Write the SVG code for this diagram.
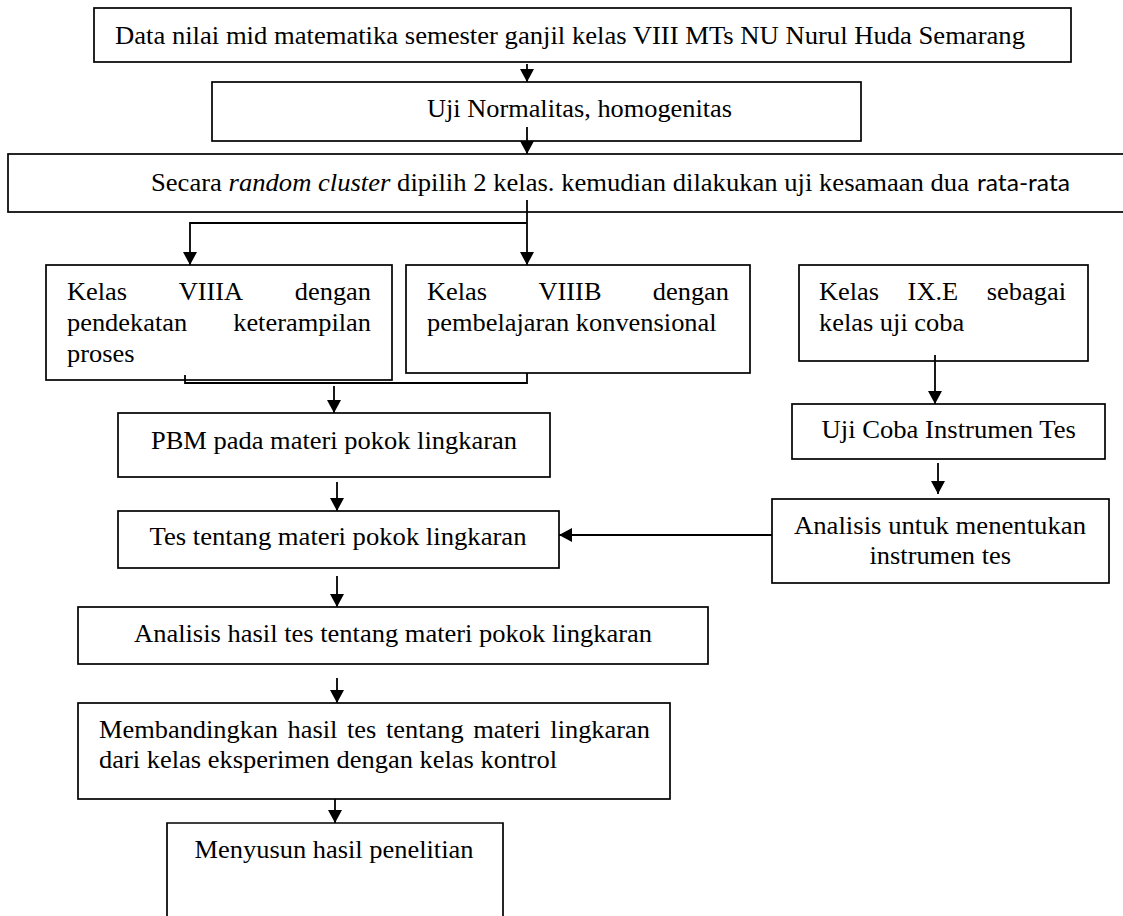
<svg xmlns="http://www.w3.org/2000/svg" width="1123" height="916" viewBox="0 0 1123 916">
<style>
.t{font-family:"Liberation Serif","Times New Roman",serif;font-size:24.5px;fill:#000}
.s{font-family:Lato,"Open Sans","Liberation Sans",sans-serif;font-size:23px;fill:#000}
.box{fill:#fff;stroke:#000;stroke-width:1.7}
.conn{stroke:#000;stroke-width:1.8;fill:none}
.arr{marker-end:url(#ah)}
</style>
<defs>
<marker id="ah" markerUnits="userSpaceOnUse" markerWidth="14" markerHeight="15" refX="13" refY="7" orient="auto">
<path d="M0,0 L13,7 L0,14 z" fill="#000"/>
</marker>
</defs>
<rect width="1123" height="916" fill="#fff"/>

<g id="n1">
<rect class="box" x="94" y="8" width="977" height="54"/>
<text class="t" x="115" y="44" textLength="910" lengthAdjust="spacingAndGlyphs">Data nilai mid matematika semester ganjil kelas VIII MTs NU Nurul Huda Semarang</text>
</g>
<g id="n2">
<rect class="box" x="212" y="82" width="649" height="59"/>
<text class="t" x="427" y="117" textLength="305" lengthAdjust="spacingAndGlyphs">Uji Normalitas, homogenitas</text>
</g>
<g id="n3">
<rect class="box" x="8" y="154" width="1130" height="58"/>
<text class="t" x="151" y="191" textLength="818" lengthAdjust="spacingAndGlyphs">Secara <tspan font-style="italic">random cluster</tspan> dipilih 2 kelas. kemudian dilakukan uji kesamaan dua</text>
<text class="s" x="977" y="191" textLength="93" lengthAdjust="spacingAndGlyphs">rata-rata</text>
</g>
<g id="n4">
<rect class="box" x="46" y="265" width="346" height="115"/>
<text class="t" x="67" y="300" textLength="60.1" lengthAdjust="spacingAndGlyphs">Kelas</text>
<text class="t" x="178.7" y="300" textLength="64.5" lengthAdjust="spacingAndGlyphs">VIIIA</text>
<text class="t" x="294.8" y="300" textLength="76.2" lengthAdjust="spacingAndGlyphs">dengan</text>
<text class="t" x="67" y="331" textLength="120.2" lengthAdjust="spacingAndGlyphs">pendekatan</text>
<text class="t" x="233.2" y="331" textLength="137.8" lengthAdjust="spacingAndGlyphs">keterampilan</text>
<text class="t" x="67" y="362" textLength="67.5" lengthAdjust="spacingAndGlyphs">proses</text>
</g>
<g id="n5">
<rect class="box" x="406" y="265" width="344" height="108"/>
<text class="t" x="427" y="300" textLength="60.1" lengthAdjust="spacingAndGlyphs">Kelas</text>
<text class="t" x="538.5" y="300" textLength="63" lengthAdjust="spacingAndGlyphs">VIIIB</text>
<text class="t" x="652.8" y="300" textLength="76.2" lengthAdjust="spacingAndGlyphs">dengan</text>
<text class="t" x="427" y="331" textLength="289.6" lengthAdjust="spacingAndGlyphs">pembelajaran konvensional</text>
</g>
<g id="n6">
<rect class="box" x="799" y="265" width="289" height="96"/>
<text class="t" x="819" y="300" textLength="60.1" lengthAdjust="spacingAndGlyphs">Kelas</text>
<text class="t" x="907.6" y="300" textLength="50.6" lengthAdjust="spacingAndGlyphs">IX.E</text>
<text class="t" x="986.8" y="300" textLength="79.2" lengthAdjust="spacingAndGlyphs">sebagai</text>
<text class="t" x="819" y="331" textLength="145.2" lengthAdjust="spacingAndGlyphs">kelas uji coba</text>
</g>
<g id="n7">
<rect class="box" x="792" y="404" width="313" height="55"/>
<text class="t" x="821.5" y="438" textLength="254.4" lengthAdjust="spacingAndGlyphs">Uji Coba Instrumen Tes</text>
</g>
<g id="n8">
<rect class="box" x="772" y="499" width="337" height="84"/>
<text class="t" x="794" y="534" textLength="292" lengthAdjust="spacingAndGlyphs">Analisis untuk menentukan</text>
<text class="t" x="869.5" y="564" textLength="141.5" lengthAdjust="spacingAndGlyphs">instrumen tes</text>
</g>
<g id="n9">
<rect class="box" x="118" y="413" width="432" height="64"/>
<text class="t" x="151" y="449" textLength="366" lengthAdjust="spacingAndGlyphs">PBM pada materi pokok lingkaran</text>
</g>
<g id="n10">
<rect class="box" x="118" y="511" width="441" height="57"/>
<text class="t" x="149.5" y="545" textLength="377" lengthAdjust="spacingAndGlyphs">Tes tentang materi pokok lingkaran</text>
</g>
<g id="n11">
<rect class="box" x="78" y="607" width="630" height="57"/>
<text class="t" x="134" y="642" textLength="518" lengthAdjust="spacingAndGlyphs">Analisis hasil tes tentang materi pokok lingkaran</text>
</g>
<g id="n12">
<rect class="box" x="78" y="703" width="592" height="96"/>
<text class="t" x="99" y="738" textLength="178.9" lengthAdjust="spacingAndGlyphs">Membandingkan</text>
<text class="t" x="287.5" y="738" textLength="49.9" lengthAdjust="spacingAndGlyphs">hasil</text>
<text class="t" x="347" y="738" textLength="29.3" lengthAdjust="spacingAndGlyphs">tes</text>
<text class="t" x="385.9" y="738" textLength="77.7" lengthAdjust="spacingAndGlyphs">tentang</text>
<text class="t" x="473.2" y="738" textLength="67.5" lengthAdjust="spacingAndGlyphs">materi</text>
<text class="t" x="550.3" y="738" textLength="99.7" lengthAdjust="spacingAndGlyphs">lingkaran</text>
<text class="t" x="99" y="768" textLength="458" lengthAdjust="spacingAndGlyphs">dari kelas eksperimen dengan kelas kontrol</text>
</g>
<g id="n13">
<path class="box" d="M167,930 V823 H503 V930"/>
<text class="t" x="194.5" y="858" textLength="279" lengthAdjust="spacingAndGlyphs">Menyusun hasil penelitian</text>
</g>

<g id="connectors">
<line class="conn arr" x1="527" y1="64" x2="527" y2="82"/>
<line class="conn arr" x1="527" y1="127" x2="527" y2="154"/>
<line class="conn arr" x1="527" y1="200" x2="527" y2="265"/>
<polyline class="conn arr" points="527,223 190,223 190,265"/>
<polyline class="conn" points="185,375 185,383 527,383 527,373"/>
<line class="conn arr" x1="334" y1="386" x2="334" y2="413"/>
<line class="conn arr" x1="935" y1="355" x2="935" y2="404"/>
<line class="conn arr" x1="938" y1="463" x2="938" y2="494"/>
<line class="conn arr" x1="772" y1="535" x2="559" y2="535"/>
<line class="conn arr" x1="337" y1="482" x2="337" y2="511"/>
<line class="conn arr" x1="337" y1="576" x2="337" y2="607"/>
<line class="conn arr" x1="337" y1="678" x2="337" y2="703"/>
<line class="conn arr" x1="335" y1="799" x2="335" y2="823"/>
</g>
</svg>
